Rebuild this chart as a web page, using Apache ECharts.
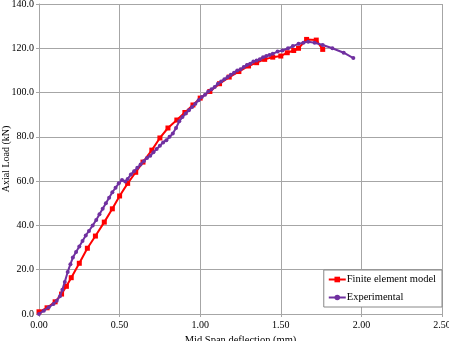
<!DOCTYPE html>
<html>
<head>
<meta charset="utf-8">
<script src="https://cdn.jsdelivr.net/npm/echarts@6/dist/echarts.min.js"></script>
<style>
html, body { margin: 0; padding: 0; background: #fff; }
#main { width: 449px; height: 341px; }
</style>
</head>
<body>
<div id="main"></div>
<script>
// finite element model (deflection mm, load kN)
var feX = [0.00, 0.05, 0.10, 0.14, 0.17, 0.20, 0.25, 0.30, 0.35, 0.405, 0.455, 0.50, 0.55, 0.60, 0.645, 0.70, 0.75, 0.80, 0.855, 0.905, 0.955, 1.00, 1.06, 1.12, 1.18, 1.24, 1.30, 1.35, 1.40, 1.45, 1.50, 1.54, 1.58, 1.61, 1.66, 1.72, 1.76];
var feY = [1.0, 2.8, 5.5, 9.0, 12.5, 16.4, 22.9, 29.7, 35.2, 41.5, 47.5, 53.3, 59.0, 64.0, 68.6, 74.0, 79.5, 84.0, 87.6, 91.0, 94.4, 97.5, 100.5, 104.0, 107.0, 109.5, 112.0, 113.5, 115.0, 116.0, 116.5, 118.0, 119.0, 120.0, 124.0, 123.7, 119.5];

// experimental
var expX = [0.00, 0.03, 0.06, 0.09, 0.11, 0.13, 0.145, 0.16, 0.178, 0.195, 0.21, 0.23, 0.25, 0.27, 0.29, 0.31, 0.333, 0.355, 0.375, 0.395, 0.415, 0.435, 0.455, 0.475, 0.495, 0.515, 0.535, 0.55, 0.57, 0.59, 0.61, 0.63, 0.65, 0.67, 0.69, 0.71, 0.73, 0.75, 0.77, 0.79, 0.81, 0.83, 0.85, 0.87, 0.89, 0.91, 0.93, 0.95, 0.97, 0.99, 1.01, 1.03, 1.05, 1.07, 1.09, 1.11, 1.13, 1.15, 1.17, 1.19, 1.21, 1.23, 1.25, 1.27, 1.29, 1.31, 1.33, 1.35, 1.37, 1.39, 1.41, 1.43, 1.45, 1.48, 1.51, 1.545, 1.575, 1.61, 1.64, 1.67, 1.71, 1.76, 1.82, 1.89, 1.95];
var expY = [0.0, 1.5, 3.0, 4.5, 6.0, 8.0, 11.0, 14.5, 19.0, 22.5, 25.5, 28.0, 30.5, 33.0, 35.5, 37.5, 40.0, 42.5, 45.0, 47.5, 50.0, 52.5, 55.0, 57.0, 59.0, 60.5, 59.8, 61.0, 63.0, 64.5, 66.0, 67.5, 69.0, 70.5, 71.5, 73.0, 74.5, 76.0, 77.5, 78.5, 80.0, 81.5, 84.0, 87.0, 89.0, 90.5, 92.0, 93.5, 95.0, 96.5, 98.0, 99.0, 100.5, 101.5, 102.5, 104.0, 105.0, 106.0, 107.0, 108.0, 109.0, 110.0, 110.5, 111.5, 112.5, 113.0, 114.0, 114.5, 115.0, 116.0, 116.5, 117.0, 117.5, 118.5, 119.0, 120.0, 121.0, 122.0, 122.5, 123.0, 122.5, 121.5, 120.0, 118.0, 115.6];

var seriesNames = ['Finite element model', 'Experimental'];

function pairs(xs, ys) {
    var out = [];
    for (var i = 0; i < xs.length; i++) {
        out.push([xs[i], ys[i]]);
    }
    return out;
}

var myChart = echarts.init(document.getElementById('main'));

var font = 'Liberation Serif';
var gridColor = '#a6a6a6';

option = {
    animation: false,
    textStyle: { fontFamily: font },
    grid: {
        left: 39,
        right: 7,
        top: 4,
        bottom: 27,
        containLabel: false,
        outerBoundsMode: 'none'
    },
    legend: {
        data: seriesNames,
        orient: 'vertical',
        right: 7,
        bottom: 34,
        itemWidth: 17,
        itemHeight: 7,
        itemGap: 7,
        padding: [4, 6, 4, 4],
        backgroundColor: '#fff',
        borderColor: '#888',
        borderWidth: 1,
        borderRadius: 0,
        textStyle: { fontFamily: font, fontSize: 10.5, color: '#000', padding: [0, 0, 0, -4] }
    },
    xAxis: {
        type: 'value',
        min: 0,
        max: 2.5,
        interval: 0.5,
        name: 'Mid Span deflection (mm)',
        nameLocation: 'middle',
        nameGap: 20,
        nameTextStyle: { fontFamily: font, fontSize: 10.5, color: '#000' },
        axisLine: { lineStyle: { color: gridColor } },
        axisTick: { show: true, length: 3, lineStyle: { color: gridColor } },
        axisLabel: {
            fontFamily: font, fontSize: 10, color: '#000', margin: 6,
            formatter: function (v) { return v.toFixed(2); }
        },
        splitLine: { lineStyle: { color: gridColor, width: 1 } }
    },
    yAxis: {
        type: 'value',
        min: 0,
        max: 140,
        interval: 20,
        name: 'Axial Load (kN)',
        nameLocation: 'middle',
        nameGap: 28,
        nameMoveOverlap: false,
        nameTextStyle: { fontFamily: font, fontSize: 10, color: '#000' },
        axisLine: { show: true, lineStyle: { color: gridColor } },
        axisTick: { show: true, length: 3, lineStyle: { color: gridColor } },
        axisLabel: {
            fontFamily: font, fontSize: 10, color: '#000', margin: 5,
            formatter: function (v) { return v.toFixed(1); }
        },
        splitLine: { lineStyle: { color: gridColor, width: 1 } }
    },
    series: [{
        name: seriesNames[0],
        type: 'line',
        data: pairs(feX, feY),
        symbol: 'rect',
        symbolSize: 5,
        color: '#ff0000',
        lineStyle: { width: 2, color: '#ff0000' },
        itemStyle: { color: '#ff0000' },
        z: 2
    }, {
        name: seriesNames[1],
        type: 'line',
        data: pairs(expX, expY),
        symbol: 'circle',
        symbolSize: 4,
        color: '#7030a0',
        lineStyle: { width: 2, color: '#7030a0' },
        itemStyle: { color: '#7030a0' },
        z: 3
    }]
};

myChart.setOption(option);
</script>
</body>
</html>
